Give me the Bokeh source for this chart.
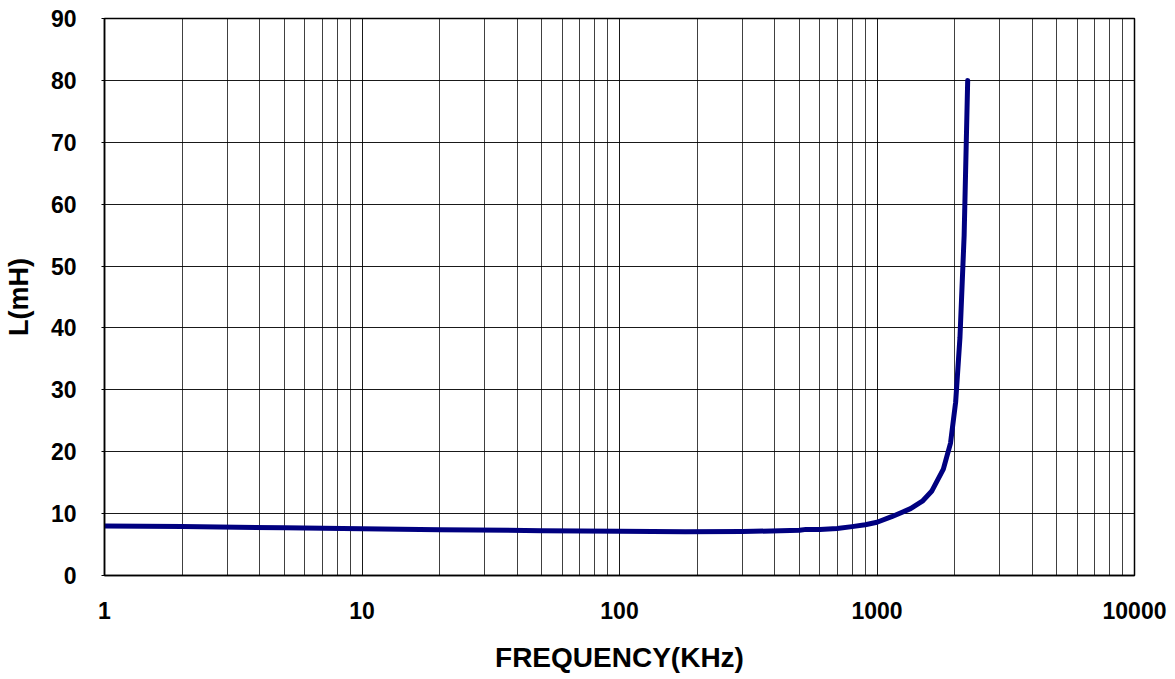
from bokeh.plotting import figure
from bokeh.models import FixedTicker, Range1d
from bokeh.embed import file_html
from bokeh.resources import INLINE

# Data
freq_khz = [1, 2, 5, 10, 20, 50, 100, 180, 300, 500, 530, 600, 700, 800, 900,
            1000, 1140, 1350, 1500, 1630, 1810, 1930, 2020, 2100, 2180, 2250]
induct_mh = [8.0, 7.9, 7.7, 7.55, 7.4, 7.25, 7.15, 7.05, 7.1, 7.3, 7.45, 7.45, 7.6, 7.9, 8.2,
             8.6, 9.5, 10.8, 12.0, 13.6, 17.2, 21.4, 28.0, 38.5, 55.0, 80.0]

x_major = [1, 10, 100, 1000, 10000]
x_minor = [m * 10 ** k for k in range(4) for m in range(2, 10)]
y_ticks = [0, 10, 20, 30, 40, 50, 60, 70, 80, 90]

FONT = "Liberation Sans"

p = figure(width=1170, height=678, x_axis_type="log",
           x_range=Range1d(1, 10000), y_range=Range1d(0, 90),
           output_backend="svg", toolbar_location=None,
           min_border_left=104, min_border_right=36, min_border_top=18, min_border_bottom=103)

p.background_fill_color = "white"
p.border_fill_color = "white"
p.outline_line_color = "black"
p.outline_line_width = 1.5

p.xaxis.ticker = FixedTicker(ticks=x_major, minor_ticks=x_minor)
p.yaxis.ticker = FixedTicker(ticks=y_ticks)
p.xaxis.major_label_overrides = {1: "1", 10: "10", 100: "100", 1000: "1000", 10000: "10000"}

for ax in (p.xaxis, p.yaxis):
    ax.major_label_text_font = FONT
    ax.major_label_text_font_style = "bold"
    ax.major_label_text_font_size = "23px"
    ax.major_label_text_color = "black"
    ax.axis_label_text_font = FONT
    ax.axis_label_text_font_style = "bold"
    ax.axis_label_text_font_size = "27px"
    ax.axis_label_text_color = "black"
    ax.axis_line_color = "black"
    ax.axis_line_width = 1.5
    ax.major_tick_line_color = "black"
    ax.major_tick_in = 0
    ax.major_tick_out = 3
    ax.minor_tick_line_color = None

p.xaxis.axis_label_text_font_size = "28px"
p.xaxis.major_tick_out = 0
p.xaxis.axis_label = "FREQUENCY(KHz)"
p.yaxis.axis_label = "L(mH)"
p.xaxis.major_label_standoff = 22
p.yaxis.major_label_standoff = 25
p.xaxis.axis_label_standoff = 20
p.yaxis.axis_label_standoff = 14

p.xgrid.grid_line_color = "black"
p.xgrid.grid_line_alpha = 0.9
p.xgrid.grid_line_width = 1
p.xgrid.minor_grid_line_color = "black"
p.xgrid.minor_grid_line_alpha = 0.75
p.xgrid.minor_grid_line_width = 1
p.ygrid.grid_line_color = "black"
p.ygrid.grid_line_alpha = 0.9
p.ygrid.grid_line_width = 1

p.line(freq_khz, induct_mh, line_color="#000080", line_width=5,
       line_cap="round", line_join="round")

open("out.html", "w").write(file_html(p, INLINE))
